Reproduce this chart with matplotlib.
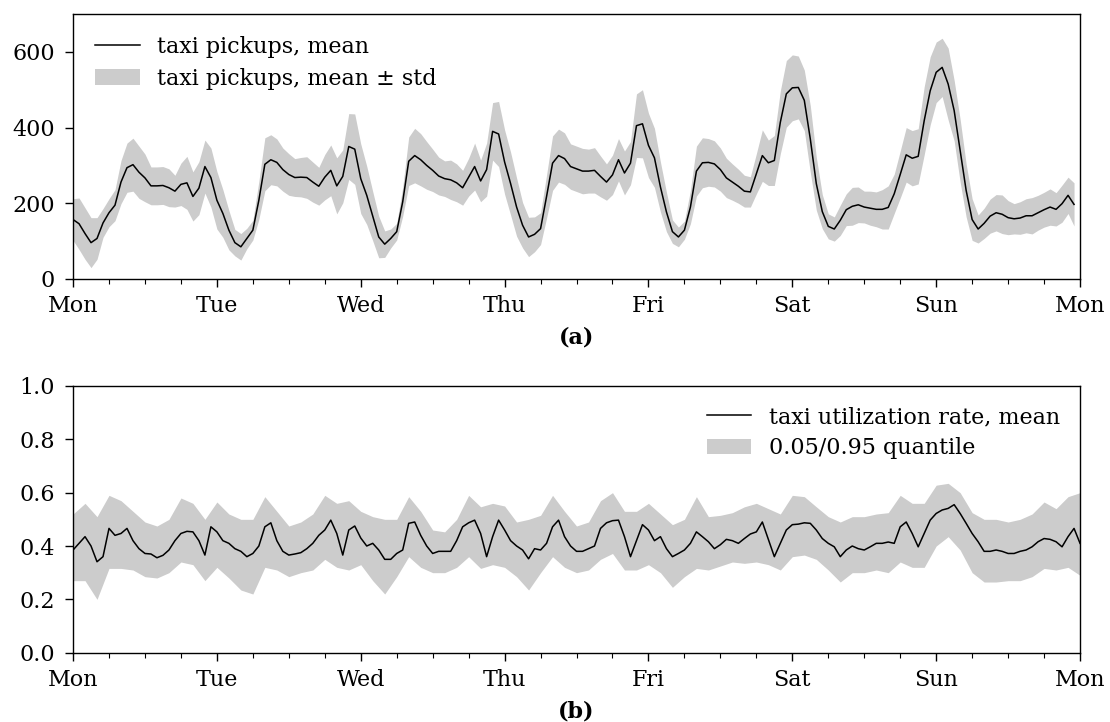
import matplotlib
matplotlib.use("Agg")
import matplotlib.pyplot as plt
from matplotlib.ticker import MultipleLocator, FixedLocator
from matplotlib.patches import Patch
from matplotlib.lines import Line2D
import numpy as np

plt.rcParams['font.family'] = ['DejaVu Serif']
plt.rcParams['font.size'] = 16

day_labels = ["Mon", "Tue", "Wed", "Thu", "Fri", "Sat", "Sun", "Mon"]

# (a) hourly taxi pickups: mean and std (hour 0 = Monday 00:00)
pickup_mean = [
    157, 146, 120, 96, 107, 148, 175, 195, 256, 294,
    302, 282, 267, 246, 246, 247, 241, 232, 250, 254,
    218, 240, 297, 268, 208, 173, 129, 96, 85, 107,
    129, 208, 303, 315, 308, 289, 276, 268, 269, 268,
    256, 245, 269, 287, 246, 271, 350, 343, 265, 221,
    166, 111, 92, 107, 125, 204, 311, 326, 315, 300,
    287, 272, 265, 262, 254, 241, 269, 297, 259, 289,
    390, 383, 309, 252, 190, 142, 111, 118, 133, 218,
    306, 326, 318, 297, 291, 285, 285, 287, 271, 256,
    275, 315, 280, 306, 405, 410, 353, 320, 243, 177,
    125, 111, 129, 190, 285, 307, 308, 304, 289, 267,
    256, 245, 232, 230, 278, 326, 307, 313, 414, 489,
    505, 506, 472, 370, 252, 178, 139, 132, 155, 183,
    192, 196, 190, 187, 184, 184, 189, 225, 276, 328,
    319, 324, 418, 497, 546, 559, 515, 445, 339, 234,
    157, 132, 147, 166, 175, 171, 162, 159, 161, 167,
    167, 175, 183, 190, 184, 199, 221, 197,
]
pickup_std = [
    55, 68, 68, 66, 55, 38, 37, 41, 57, 65,
    70, 69, 63, 50, 50, 50, 50, 42, 56, 70,
    65, 70, 70, 78, 76, 63, 52, 35, 35, 27,
    26, 50, 70, 66, 62, 57, 55, 50, 52, 55,
    53, 50, 60, 67, 74, 70, 87, 93, 92, 77,
    65, 55, 35, 25, 22, 38, 64, 72, 69, 63,
    56, 50, 47, 52, 50, 46, 50, 62, 55, 70,
    76, 86, 85, 83, 77, 60, 52, 46, 42, 57,
    72, 70, 68, 60, 60, 60, 58, 60, 54, 48,
    52, 56, 58, 57, 84, 90, 85, 78, 66, 52,
    31, 26, 24, 44, 66, 66, 63, 61, 57, 52,
    48, 45, 42, 40, 53, 68, 60, 66, 83, 88,
    87, 83, 80, 88, 70, 45, 33, 32, 40, 42,
    50, 47, 42, 45, 46, 52, 57, 52, 62, 72,
    73, 73, 90, 90, 80, 77, 95, 80, 83, 70,
    55, 37, 40, 45, 48, 51, 45, 40, 43, 45,
    48, 46, 46, 48, 44, 49, 48, 57,
]

# (b) taxi utilization rate: hourly mean, 2-hourly 0.05/0.95 quantiles
util_mean = [
    0.385, 0.41, 0.435, 0.40, 0.341, 0.36, 0.466, 0.44, 0.447, 0.466,
    0.42, 0.39, 0.372, 0.37, 0.356, 0.365, 0.385, 0.42, 0.447, 0.455,
    0.453, 0.42, 0.366, 0.472, 0.453, 0.42, 0.41, 0.39, 0.38, 0.36,
    0.372, 0.40, 0.472, 0.487, 0.42, 0.38, 0.366, 0.37, 0.375, 0.39,
    0.41, 0.44, 0.46, 0.497, 0.447, 0.366, 0.46, 0.475, 0.43, 0.40,
    0.41, 0.385, 0.35, 0.35, 0.372, 0.385, 0.485, 0.49, 0.44, 0.40,
    0.372, 0.38, 0.38, 0.38, 0.42, 0.472, 0.487, 0.497, 0.447, 0.36,
    0.435, 0.497, 0.46, 0.42, 0.40, 0.385, 0.352, 0.39, 0.385, 0.41,
    0.472, 0.497, 0.435, 0.40, 0.38, 0.38, 0.39, 0.40, 0.466, 0.487,
    0.495, 0.497, 0.435, 0.36, 0.42, 0.48, 0.46, 0.42, 0.435, 0.39,
    0.36, 0.372, 0.385, 0.41, 0.453, 0.435, 0.416, 0.39, 0.405, 0.425,
    0.42, 0.41, 0.428, 0.445, 0.453, 0.49, 0.425, 0.36, 0.41, 0.46,
    0.48, 0.482, 0.487, 0.485, 0.46, 0.428, 0.41, 0.397, 0.36, 0.385,
    0.40, 0.39, 0.385, 0.397, 0.41, 0.41, 0.415, 0.41, 0.472, 0.49,
    0.447, 0.397, 0.447, 0.497, 0.522, 0.535, 0.541, 0.555, 0.522, 0.485,
    0.447, 0.416, 0.38, 0.38, 0.385, 0.38, 0.372, 0.372, 0.38, 0.385,
    0.397, 0.416, 0.428, 0.425, 0.416, 0.397, 0.435, 0.466, 0.41,
]
util_q95 = [
    0.52, 0.56, 0.51, 0.59, 0.57, 0.53, 0.49, 0.475, 0.50, 0.58,
    0.56, 0.50, 0.565, 0.52, 0.50, 0.50, 0.585, 0.53, 0.475, 0.49,
    0.52, 0.59, 0.56, 0.57, 0.53, 0.51, 0.50, 0.50, 0.585, 0.53,
    0.46, 0.453, 0.50, 0.59, 0.547, 0.56, 0.55, 0.49, 0.50, 0.515,
    0.59, 0.53, 0.475, 0.49, 0.57, 0.60, 0.53, 0.53, 0.56, 0.52,
    0.48, 0.50, 0.585, 0.51, 0.515, 0.525, 0.547, 0.56, 0.54, 0.52,
    0.59, 0.585, 0.547, 0.51, 0.49, 0.51, 0.51, 0.52, 0.525, 0.59,
    0.56, 0.56, 0.628, 0.635, 0.60, 0.525, 0.50, 0.50, 0.49, 0.50,
    0.52, 0.565, 0.54, 0.585, 0.60,
]
util_q05 = [
    0.27, 0.27, 0.20, 0.316, 0.316, 0.31, 0.285, 0.28, 0.30, 0.34,
    0.33, 0.27, 0.32, 0.28, 0.235, 0.22, 0.32, 0.31, 0.285, 0.30,
    0.31, 0.35, 0.32, 0.31, 0.33, 0.27, 0.22, 0.285, 0.36, 0.32,
    0.30, 0.30, 0.32, 0.36, 0.316, 0.33, 0.32, 0.285, 0.235, 0.30,
    0.36, 0.32, 0.30, 0.31, 0.35, 0.372, 0.31, 0.31, 0.33, 0.30,
    0.245, 0.285, 0.316, 0.31, 0.325, 0.34, 0.335, 0.34, 0.33, 0.31,
    0.36, 0.366, 0.35, 0.31, 0.265, 0.30, 0.30, 0.31, 0.30, 0.34,
    0.32, 0.32, 0.40, 0.435, 0.385, 0.30, 0.265, 0.265, 0.27, 0.27,
    0.285, 0.316, 0.31, 0.32, 0.29,
]

hours_a = np.arange(len(pickup_mean))
mean_a = np.array(pickup_mean, dtype=float)
std_a = np.array(pickup_std, dtype=float)
hours_bm = np.arange(len(util_mean))
hours_bq = np.arange(len(util_q95)) * 2

band_color = '#cccccc'
fs = 16

fig = plt.figure(figsize=(11.10, 7.22), dpi=100)
ax1 = fig.add_axes([0.0658, 0.6136, 0.9072, 0.3670])
ax2 = fig.add_axes([0.0658, 0.0960, 0.9072, 0.3694])

ax1.fill_between(hours_a, mean_a - std_a, mean_a + std_a, color=band_color, lw=0)
ax1.plot(hours_a, mean_a, color='black', lw=1.1)
ax1.set_ylim(0, 700)
ax1.yaxis.set_major_locator(FixedLocator([0, 200, 400, 600]))
ax1.set_xlabel('(a)', fontweight='bold', fontsize=fs, labelpad=7)
h1 = [Line2D([], [], color='black', lw=1.1),
      Patch(facecolor=band_color, edgecolor='none')]
ax1.legend(h1, ['taxi pickups, mean', 'taxi pickups, mean \u00b1 std'],
           loc='upper left', frameon=False, fontsize=fs,
           handlelength=2.0, borderaxespad=0.6, labelspacing=0.42)

ax2.fill_between(hours_bq, util_q05, util_q95, color=band_color, lw=0)
ax2.plot(hours_bm, util_mean, color='black', lw=1.1)
ax2.set_ylim(0, 1)
ax2.yaxis.set_major_locator(FixedLocator([0.0, 0.2, 0.4, 0.6, 0.8, 1.0]))
ax2.set_xlabel('(b)', fontweight='bold', fontsize=fs, labelpad=7)
h2 = [Line2D([], [], color='black', lw=1.1),
      Patch(facecolor=band_color, edgecolor='none')]
ax2.legend(h2, ['taxi utilization rate, mean', '0.05/0.95 quantile'],
           loc='upper right', frameon=False, fontsize=fs,
           handlelength=2.0, borderaxespad=0.5, labelspacing=0.42)

for ax in (ax1, ax2):
    ax.set_xlim(0, 168)
    ax.set_xticks(np.arange(0, 169, 24))
    ax.set_xticklabels(day_labels)
    ax.xaxis.set_minor_locator(MultipleLocator(6))
    ax.tick_params(which='major', length=6, width=1, direction='out',
                   labelsize=fs)
    ax.tick_params(axis='x', which='major', pad=5.5)
    ax.tick_params(axis='y', which='major', pad=7)
    ax.tick_params(which='minor', length=3.5, width=0.8, direction='out')
    for s in ax.spines.values():
        s.set_linewidth(1.0)

fig.savefig('out.png', dpi=100)
